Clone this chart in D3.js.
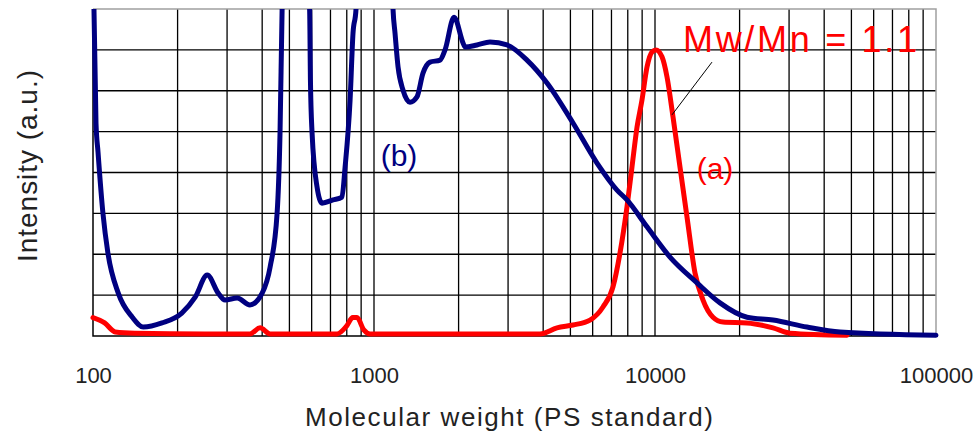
<!DOCTYPE html>
<html lang="en">
<head>
  <meta charset="UTF-8">
  <title>GPC traces</title>
  <script src="https://d3js.org/d3.v7.min.js"></script>
  <style>
    body { margin: 0; background: #fff; }
    text { font-family: "Liberation Sans", Arial, sans-serif; }
    .grid line { stroke: #000; stroke-width: 1.3; }
    .line { fill: none; stroke-width: 5; stroke-linejoin: round; stroke-linecap: round; }
  </style>
</head>
<body>
<script>
  // tick labels on the log axis
  const xTicks = [100, 1000, 10000, 100000];

  // (b) crude product - molecular weight vs intensity (a.u.), values above 8 run off the top
  const blueMw = [100.8, 102.5, 104.2, 108.5, 113, 123, 138, 151, 176, 207, 231, 255, 279, 295, 326, 362, 400, 427, 452, 463, 471, 478,
    545, 590, 594, 602, 627, 653, 715, 769, 789, 822, 842, 863, 875,
    1150, 1169, 1188, 1218, 1268, 1343, 1422, 1494, 1582, 1718, 1790, 1927, 2074, 2108, 2325, 2587, 2974, 3503, 4128, 5108, 6218,
    7324, 7949, 9366, 11309, 14110, 17033, 21256, 26303, 34743, 45532, 100000];
  const blueI = [8.0, 5.2, 4.5, 3.0, 2.03, 1.05, 0.46, 0.22, 0.32, 0.56, 0.95, 1.49, 1.05, 0.88, 0.93, 0.76, 1.05, 1.69, 3.0, 4.97, 8.0, 9.5,
    9.5, 8.0, 6.26, 4.97, 3.65, 3.25, 3.33, 3.40, 4.13, 5.77, 7.41, 8.0, 9.5,
    9.5, 7.98, 7.41, 6.58, 6.02, 5.72, 5.85, 6.43, 6.70, 6.75, 7.0, 7.8, 7.17, 7.07, 7.12, 7.19, 7.12, 6.75, 6.19, 5.21, 4.23,
    3.57, 3.33, 2.67, 1.93, 1.30, 0.81, 0.46, 0.39, 0.22, 0.10, 0.02];

  // (a) narrow polymer, Mw/Mn = 1.1
  const redMw = [100, 110, 120, 141, 250, 333, 362, 393, 427, 738, 800, 840, 870, 920, 968, 3896, 4479, 5108, 5870, 6530, 7088,
    7506, 7949, 8280, 8630, 8987, 9366, 9757, 10082, 10590, 11033, 11590, 12274, 13000, 13880, 14822, 16087, 17461, 21256,
    26303, 30228, 48220];
  const redI = [0.45, 0.32, 0.10, 0.07, 0.05, 0.05, 0.05, 0.2, 0.05, 0.05, 0.25, 0.45, 0.45, 0.15, 0.05, 0.05, 0.2, 0.27, 0.39,
    0.71, 1.20, 2.03, 3.16, 4.13, 5.11, 5.77, 6.58, 6.95, 7.00, 6.83, 6.34, 5.36, 4.13, 2.91, 1.54, 0.88, 0.46, 0.34, 0.32,
    0.2, 0.07, 0.02];

  const W = 980, H = 438;
  const margin = {left: 93, right: 936, top: 9, bottom: 336};

  const x = d3.scaleLog().domain([100, 100000]).range([margin.left, margin.right]);
  const y = d3.scaleLinear().domain([0, 8]).range([margin.bottom, margin.top]);

  const svg = d3.select('body').append('svg')
    .attr('width', W).attr('height', H);

  svg.append('clipPath').attr('id', 'plot')
    .append('rect')
    .attr('x', margin.left - 3).attr('y', margin.top)
    .attr('width', margin.right - margin.left + 6).attr('height', margin.bottom - margin.top + 5);

  // grid: every 1..9 per decade, 8 horizontal bands
  const grid = svg.append('g').attr('class', 'grid');
  grid.selectAll('.v').data(x.ticks().filter(d => d > 100 && d < 100000))
    .enter().append('line')
    .attr('x1', d => x(d)).attr('x2', d => x(d))
    .attr('y1', margin.top).attr('y2', margin.bottom);
  grid.selectAll('.h').data(y.ticks(8).filter(d => d > 0 && d < 8))
    .enter().append('line')
    .attr('x1', margin.left).attr('x2', margin.right)
    .attr('y1', d => y(d)).attr('y2', d => y(d));

  // frame: grey top/right, black left/bottom
  svg.append('path')
    .attr('d', `M${margin.left},${margin.top}H${margin.right}V${margin.bottom}`)
    .attr('fill', 'none').attr('stroke', '#a0a0a0').attr('stroke-width', 1.5);
  svg.append('path')
    .attr('d', `M${margin.left},${margin.top}V${margin.bottom}H${margin.right}`)
    .attr('fill', 'none').attr('stroke', '#000').attr('stroke-width', 1.5);

  const line = d3.line()
    .x(d => x(d[0]))
    .y(d => y(d[1]))
    .curve(d3.curveMonotoneX);

  const plot = svg.append('g').attr('clip-path', 'url(#plot)');
  plot.append('path')
    .datum(d3.zip(redMw, redI))
    .attr('class', 'line')
    .attr('stroke', '#ff0000')
    .attr('d', line);
  plot.append('path')
    .datum(d3.zip(blueMw, blueI))
    .attr('class', 'line')
    .attr('stroke', '#000080')
    .attr('d', line);

  // x axis labels
  const xAxis = svg.append('g')
    .attr('transform', `translate(0,${margin.bottom})`)
    .call(d3.axisBottom(x).tickValues(xTicks).tickSize(0).tickPadding(31).tickFormat(d3.format('d')));
  xAxis.select('.domain').remove();
  xAxis.selectAll('text')
    .attr('fill', '#222')
    .style('font-size', '22px');

  svg.append('text')
    .attr('x', 509).attr('y', 426)
    .attr('text-anchor', 'middle')
    .attr('textLength', 408).attr('lengthAdjust', 'spacing')
    .style('font-size', '26px').attr('fill', '#222')
    .text('Molecular weight (PS standard)');

  svg.append('text')
    .attr('transform', 'translate(37,166) rotate(-90)')
    .attr('text-anchor', 'middle')
    .attr('textLength', 192).attr('lengthAdjust', 'spacing')
    .style('font-size', '28px').attr('fill', '#222')
    .text('Intensity (a.u.)');

  // annotations
  svg.append('line')
    .attr('x1', x(11494)).attr('y1', y(5.41))
    .attr('x2', x(15950)).attr('y2', y(6.70))
    .attr('stroke', '#000').attr('stroke-width', 1);

  svg.append('text')
    .attr('x', 683).attr('y', 52)
    .attr('textLength', 234).attr('lengthAdjust', 'spacing')
    .style('font-size', '36px').attr('fill', '#ff0000')
    .text('Mw/Mn = 1.1');

  svg.append('text')
    .attr('x', 715).attr('y', 179)
    .attr('text-anchor', 'middle')
    .style('font-size', '30px').attr('fill', '#ff0000')
    .text('(a)');

  svg.append('text')
    .attr('x', 399).attr('y', 166)
    .attr('text-anchor', 'middle')
    .style('font-size', '30px').attr('fill', '#000080')
    .text('(b)');
</script>
</body>
</html>
